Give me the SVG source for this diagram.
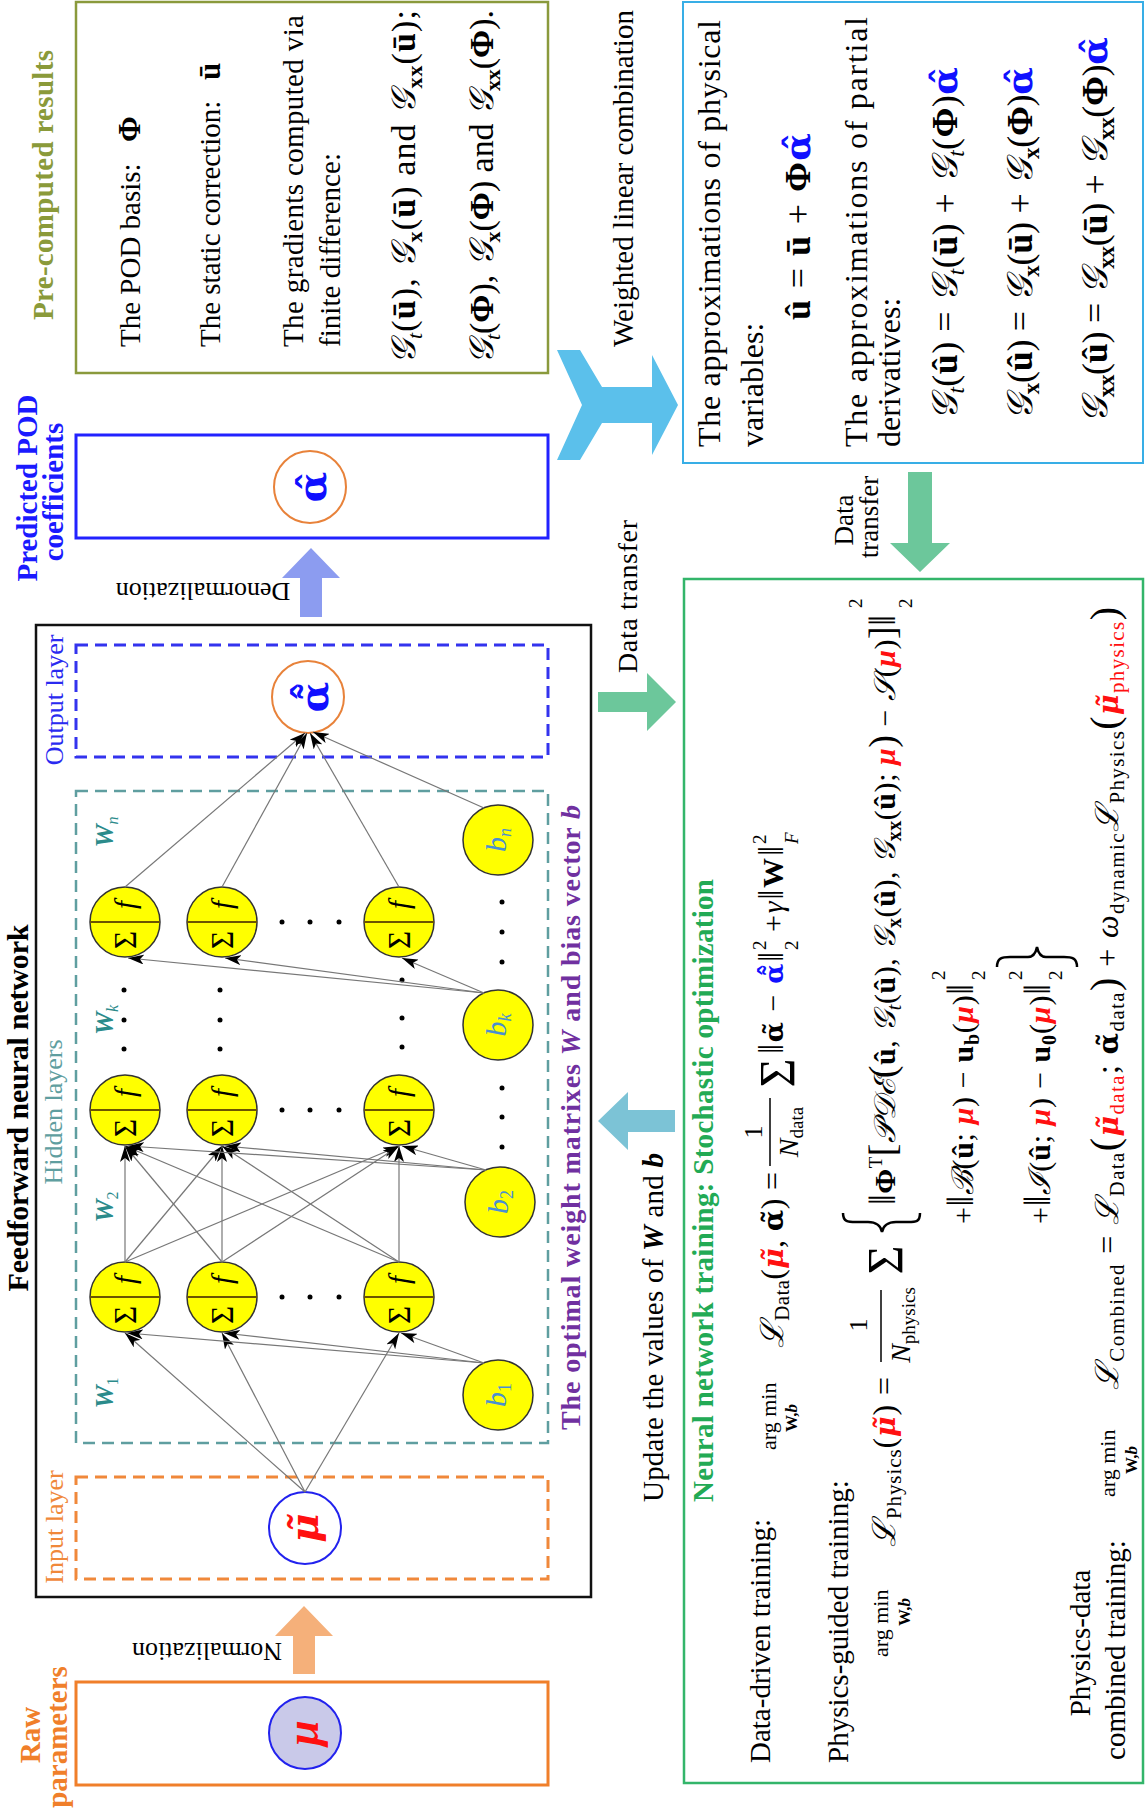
<svg xmlns="http://www.w3.org/2000/svg" width="1146" height="1813" viewBox="0 0 1146 1813">
<defs>
<style>
text { font-family: "Liberation Serif", "Times New Roman", "DejaVu Serif", serif; fill:#000; }
.b { font-weight:bold }
.i { font-style:italic }
.m { text-anchor:middle }
.red { fill:#ff1010 }
.blu { fill:#1010ff }
.gk { font-family: "DejaVu Serif", serif; }
.conn line { stroke:#777; stroke-width:1.2; marker-end:url(#ah) }
.neu { fill:#ffff00; stroke:#333; stroke-width:1.5 }
.div { stroke:#6b5500; stroke-width:2 }
.dot { fill:#000 }
.wl { fill:#2b8b8b; font-weight:bold; font-style:italic }
.bl { fill:#4a8fd0; font-style:italic }
</style>
<marker id="ah" viewBox="0 0 16 10" refX="16" refY="5" markerWidth="16" markerHeight="10" markerUnits="userSpaceOnUse" orient="auto">
<path d="M0,0 L16,5 L0,10 L4,5 z" fill="#000"/>
</marker>
</defs>
<rect width="1146" height="1813" fill="#fff"/>

<!-- Pre-computed results -->
<g id="precomputed">
<rect x="76" y="2" width="472" height="371" fill="none" stroke="#8a9a3c" stroke-width="2.5"/>
<text class="b m" font-size="29" style="fill:#8a9a3a" transform="translate(53,185) rotate(-90)" textLength="270">Pre-computed results</text>
<text font-size="29" transform="translate(140,347) rotate(-90)">The POD basis:</text>
<text class="b" font-size="31" transform="translate(140,142) rotate(-90)">Φ</text>
<text font-size="29" transform="translate(220,347) rotate(-90)">The static correction:</text>
<text class="b" font-size="31" transform="translate(220,80) rotate(-90)">ū</text>
<text font-size="29" transform="translate(303,347) rotate(-90)" textLength="332">The gradients computed via</text>
<text font-size="29" transform="translate(340,347) rotate(-90)" textLength="194">finite difference:</text>
<text font-size="34" transform="translate(415,364) rotate(-90)" textLength="354" lengthAdjust="spacing"><tspan class="i">𝒢</tspan><tspan class="i" font-size="22" dy="7">t</tspan><tspan dy="-7">(</tspan><tspan class="b">ū</tspan>), <tspan class="i">𝒢</tspan><tspan class="b" font-size="22" dy="7">x</tspan><tspan dy="-7">(</tspan><tspan class="b">ū</tspan>) and <tspan class="i">𝒢</tspan><tspan class="b" font-size="22" dy="7">xx</tspan><tspan dy="-7">(</tspan><tspan class="b">ū</tspan>);</text>
<text font-size="34" transform="translate(493,364) rotate(-90)" textLength="354" lengthAdjust="spacing"><tspan class="i">𝒢</tspan><tspan class="i" font-size="22" dy="7">t</tspan><tspan dy="-7">(</tspan><tspan class="b">Φ</tspan>), <tspan class="i">𝒢</tspan><tspan class="b" font-size="22" dy="7">x</tspan><tspan dy="-7">(</tspan><tspan class="b">Φ</tspan>) and <tspan class="i">𝒢</tspan><tspan class="b" font-size="22" dy="7">xx</tspan><tspan dy="-7">(</tspan><tspan class="b">Φ</tspan>).</text>
</g>

<!-- Predicted POD coefficients -->
<g id="predicted">
<rect x="76" y="435" width="472" height="103" fill="none" stroke="#2222ff" stroke-width="3"/>
<text class="b m" font-size="29" style="fill:#1a1aff" transform="translate(37,488) rotate(-90)">Predicted POD</text>
<text class="b m" font-size="29" style="fill:#1a1aff" transform="translate(63,492) rotate(-90)">coefficients</text>
<circle cx="310" cy="487" r="36" fill="#fff" stroke="#e8823a" stroke-width="2"/>
<text class="b blu gk m" font-size="40" transform="translate(326,487) rotate(-90)">α̂</text>
</g>

<!-- Feedforward neural network frame -->
<g id="fnn">
<rect x="36" y="625" width="555" height="972" fill="none" stroke="#111" stroke-width="2.5"/>
<text class="b m" font-size="30" transform="translate(28,1108) rotate(-90)" textLength="367">Feedforward neural network</text>
<rect x="76" y="645" width="472" height="112" fill="none" stroke="#3333ee" stroke-width="3" stroke-dasharray="12 7"/>
<text class="m" font-size="26" style="fill:#2a2af0" transform="translate(63,700) rotate(-90)">Output layer</text>
<rect x="76" y="791" width="472" height="652" fill="none" stroke="#5f9ea0" stroke-width="2.5" stroke-dasharray="12 7"/>
<text class="m" font-size="26" style="fill:#5f9ea0" transform="translate(62,1112) rotate(-90)">Hidden layers</text>
<rect x="76" y="1477" width="472" height="102" fill="none" stroke="#f0883a" stroke-width="3" stroke-dasharray="12 7"/>
<text class="m" font-size="26" style="fill:#f0883a" transform="translate(63,1527) rotate(-90)">Input layer</text>
<text class="b" font-size="28" style="fill:#7030a0" transform="translate(580,1430) rotate(-90)" textLength="625">The optimal weight matrixes <tspan class="i">W</tspan> and bias vector <tspan class="i">b</tspan></text>
<text class="wl m" font-size="26" transform="translate(113,1393) rotate(-90)">W<tspan font-size="16" font-weight="normal" font-style="normal" dy="5">1</tspan></text>
<text class="wl m" font-size="26" transform="translate(113,1207) rotate(-90)">W<tspan font-size="16" font-weight="normal" font-style="normal" dy="5">2</tspan></text>
<text class="wl m" font-size="26" transform="translate(113,1020) rotate(-90)">W<tspan font-size="16" font-weight="normal" dy="5">k</tspan></text>
<text class="wl m" font-size="26" transform="translate(113,832) rotate(-90)">W<tspan font-size="16" font-weight="normal" dy="5">n</tspan></text>
</g>

<!-- Raw parameters -->
<g id="raw">
<rect x="76" y="1682" width="472" height="103" fill="none" stroke="#f07f2a" stroke-width="3"/>
<text class="b m" font-size="29" style="fill:#f07f2a" transform="translate(40,1735) rotate(-90)">Raw</text>
<text class="b m" font-size="29" style="fill:#f07f2a" transform="translate(67,1737) rotate(-90)">parameters</text>
<circle cx="305" cy="1733" r="36" fill="#c9c9e9" stroke="#2222ee" stroke-width="2"/>
<text class="b i m red" font-size="46" transform="translate(318,1733) rotate(-90)">μ</text>
</g>

<!-- Input node -->
<g id="input">
<circle cx="305" cy="1528" r="36" fill="#fff" stroke="#2222ee" stroke-width="2"/>
<text class="b i m red gk" font-size="40" transform="translate(318,1528) rotate(-90)">μ̃</text>
</g>

<!-- Output node -->
<g id="output">
<circle cx="308" cy="697" r="36" fill="#fff" stroke="#e8823a" stroke-width="2"/>
<text class="b m blu gk" font-size="40" transform="translate(328,697) rotate(-90)">α̃̂</text>
</g>

<!-- Hidden neurons -->
<g id="n11" transform="translate(125,1297)"><circle r="35" class="neu"/><line x1="-35" y1="0" x2="35" y2="0" class="div"/><text class="m" font-size="31" transform="translate(11,18) rotate(-90)">Σ</text><text class="m i" font-size="29" transform="translate(10,-17) rotate(-90)">f</text></g>
<g id="n12" transform="translate(222,1297)"><circle r="35" class="neu"/><line x1="-35" y1="0" x2="35" y2="0" class="div"/><text class="m" font-size="31" transform="translate(11,18) rotate(-90)">Σ</text><text class="m i" font-size="29" transform="translate(10,-17) rotate(-90)">f</text></g>
<g id="n13" transform="translate(399,1297)"><circle r="35" class="neu"/><line x1="-35" y1="0" x2="35" y2="0" class="div"/><text class="m" font-size="31" transform="translate(11,18) rotate(-90)">Σ</text><text class="m i" font-size="29" transform="translate(10,-17) rotate(-90)">f</text></g>
<g id="n21" transform="translate(125,1110)"><circle r="35" class="neu"/><line x1="-35" y1="0" x2="35" y2="0" class="div"/><text class="m" font-size="31" transform="translate(11,18) rotate(-90)">Σ</text><text class="m i" font-size="29" transform="translate(10,-17) rotate(-90)">f</text></g>
<g id="n22" transform="translate(222,1110)"><circle r="35" class="neu"/><line x1="-35" y1="0" x2="35" y2="0" class="div"/><text class="m" font-size="31" transform="translate(11,18) rotate(-90)">Σ</text><text class="m i" font-size="29" transform="translate(10,-17) rotate(-90)">f</text></g>
<g id="n23" transform="translate(399,1110)"><circle r="35" class="neu"/><line x1="-35" y1="0" x2="35" y2="0" class="div"/><text class="m" font-size="31" transform="translate(11,18) rotate(-90)">Σ</text><text class="m i" font-size="29" transform="translate(10,-17) rotate(-90)">f</text></g>
<g id="nk1" transform="translate(125,922)"><circle r="35" class="neu"/><line x1="-35" y1="0" x2="35" y2="0" class="div"/><text class="m" font-size="31" transform="translate(11,18) rotate(-90)">Σ</text><text class="m i" font-size="29" transform="translate(10,-17) rotate(-90)">f</text></g>
<g id="nk2" transform="translate(222,922)"><circle r="35" class="neu"/><line x1="-35" y1="0" x2="35" y2="0" class="div"/><text class="m" font-size="31" transform="translate(11,18) rotate(-90)">Σ</text><text class="m i" font-size="29" transform="translate(10,-17) rotate(-90)">f</text></g>
<g id="nk3" transform="translate(399,922)"><circle r="35" class="neu"/><line x1="-35" y1="0" x2="35" y2="0" class="div"/><text class="m" font-size="31" transform="translate(11,18) rotate(-90)">Σ</text><text class="m i" font-size="29" transform="translate(10,-17) rotate(-90)">f</text></g>

<!-- Bias nodes -->
<g id="b1" transform="translate(498,1395)"><circle r="35" class="neu"/><text class="bl m" font-size="30" transform="translate(8,0) rotate(-90)">b<tspan font-size="18" font-style="normal" dy="5">1</tspan></text></g>
<g id="b2" transform="translate(500,1202)"><circle r="35" class="neu"/><text class="bl m" font-size="30" transform="translate(8,0) rotate(-90)">b<tspan font-size="18" font-style="normal" dy="5">2</tspan></text></g>
<g id="bk" transform="translate(498,1025)"><circle r="35" class="neu"/><text class="bl m" font-size="30" transform="translate(8,0) rotate(-90)">b<tspan font-size="18" dy="5">k</tspan></text></g>
<g id="bn" transform="translate(498,840)"><circle r="35" class="neu"/><text class="bl m" font-size="30" transform="translate(8,0) rotate(-90)">b<tspan font-size="18" dy="5">n</tspan></text></g>

<!-- ellipsis dots -->
<g id="dots" class="dot">
<circle cx="282" cy="1297" r="2.5"/><circle cx="310" cy="1297" r="2.5"/><circle cx="339" cy="1297" r="2.5"/>
<circle cx="282" cy="1110" r="2.5"/><circle cx="310" cy="1110" r="2.5"/><circle cx="339" cy="1110" r="2.5"/>
<circle cx="282" cy="922" r="2.5"/><circle cx="310" cy="922" r="2.5"/><circle cx="339" cy="922" r="2.5"/>
<circle cx="124" cy="990" r="2.5"/><circle cx="124" cy="1020" r="2.5"/><circle cx="124" cy="1049" r="2.5"/>
<circle cx="220" cy="990" r="2.5"/><circle cx="220" cy="1020" r="2.5"/><circle cx="220" cy="1049" r="2.5"/>
<circle cx="402" cy="980" r="2.5"/><circle cx="402" cy="1018" r="2.5"/><circle cx="402" cy="1047" r="2.5"/>
<circle cx="502" cy="1088" r="2.5"/><circle cx="502" cy="1117" r="2.5"/><circle cx="502" cy="1147" r="2.5"/>
<circle cx="502" cy="902" r="2.5"/><circle cx="502" cy="932" r="2.5"/><circle cx="502" cy="962" r="2.5"/>
</g>

<!-- Connectors -->
<g id="connectors" class="conn">
<line x1="305" y1="1492" x2="125" y2="1333"/>
<line x1="305" y1="1492" x2="222" y2="1333"/>
<line x1="305" y1="1492" x2="399" y2="1333"/>
<line x1="484" y1="1363" x2="127" y2="1333"/>
<line x1="484" y1="1363" x2="224" y2="1333"/>
<line x1="484" y1="1363" x2="401" y2="1333"/>
<line x1="125" y1="1262" x2="125" y2="1146"/>
<line x1="125" y1="1262" x2="222" y2="1146"/>
<line x1="125" y1="1262" x2="399" y2="1146"/>
<line x1="222" y1="1262" x2="125" y2="1146"/>
<line x1="222" y1="1262" x2="222" y2="1146"/>
<line x1="222" y1="1262" x2="399" y2="1146"/>
<line x1="399" y1="1262" x2="125" y2="1146"/>
<line x1="399" y1="1262" x2="222" y2="1146"/>
<line x1="399" y1="1262" x2="399" y2="1146"/>
<line x1="486" y1="1170" x2="128" y2="1146"/>
<line x1="486" y1="1170" x2="225" y2="1146"/>
<line x1="486" y1="1170" x2="402" y2="1146"/>
<line x1="484" y1="993" x2="128" y2="958"/>
<line x1="484" y1="993" x2="225" y2="958"/>
<line x1="484" y1="993" x2="402" y2="958"/>
<line x1="125" y1="887" x2="305" y2="733"/>
<line x1="222" y1="887" x2="307" y2="733"/>
<line x1="399" y1="887" x2="310" y2="733"/>
<line x1="484" y1="808" x2="313" y2="732"/>
</g>

<!-- Block arrows -->
<g id="arrows">
<polygon points="304,1606 333,1636 315,1636 315,1674 293,1674 293,1636 275,1636" fill="#f5b07a"/>
<text class="m" font-size="26" transform="translate(207,1643) rotate(180)">Normalization</text>
<polygon points="311,548 340,578 322,578 322,617 300,617 300,578 282,578" fill="#8c9cf0"/>
<text class="m" font-size="26" transform="translate(203,583) rotate(180)">Denormalization</text>
<polygon points="598,692 647,692 647,673 676,702 647,731 647,712 598,712" fill="#6cc79b"/>
<text font-size="28" transform="translate(637,673) rotate(-90)" textLength="153">Data transfer</text>
<polygon points="908,472 932,472 932,543 950,543 920,572 890,543 908,543" fill="#6cc79b"/>
<text class="m" font-size="27" transform="translate(853,520) rotate(-90)">Data</text>
<text class="m" font-size="27" transform="translate(878,517) rotate(-90)">transfer</text>
<polygon points="598,1121 628,1092 628,1110 675,1110 675,1132 628,1132 628,1150" fill="#7cc3d6"/>
<text font-size="29" transform="translate(663,1502) rotate(-90)" textLength="349">Update the values of <tspan class="b i">W</tspan> and <tspan class="b i">b</tspan></text>
<polygon points="557,350 580,350 602,387 652,387 652,355 678,405 652,455 652,423 602,423 580,460 557,460 582,405" fill="#5bc0eb"/>
<text font-size="29" transform="translate(633,347) rotate(-90)" textLength="337">Weighted linear combination</text>
</g>

<!-- Approximation box -->
<g id="approx">
<rect x="683" y="2" width="460" height="461" fill="none" stroke="#38aee6" stroke-width="2"/>
<text font-size="32" transform="translate(720,447) rotate(-90)" textLength="427">The approximations of physical</text>
<text font-size="32" transform="translate(763,447) rotate(-90)">variables:</text>
<text font-size="36" transform="translate(810,320) rotate(-90)" textLength="187" lengthAdjust="spacing"><tspan class="b">û</tspan> = <tspan class="b">ū</tspan> + <tspan class="b">Φ</tspan><tspan class="b blu gk">α̂</tspan></text>
<text font-size="32" transform="translate(867,447) rotate(-90)" textLength="430">The approximations of partial</text>
<text font-size="32" transform="translate(900,447) rotate(-90)">derivatives:</text>
<text font-size="36" transform="translate(957,420) rotate(-90)" textLength="353" lengthAdjust="spacing"><tspan class="i">𝒢</tspan><tspan class="i" font-size="23" dy="7">t</tspan><tspan dy="-7">(</tspan><tspan class="b">û</tspan>) = <tspan class="i">𝒢</tspan><tspan class="i" font-size="23" dy="7">t</tspan><tspan dy="-7">(</tspan><tspan class="b">ū</tspan>) + <tspan class="i">𝒢</tspan><tspan class="i" font-size="23" dy="7">t</tspan><tspan dy="-7">(</tspan><tspan class="b">Φ</tspan>)<tspan class="b blu gk">α̂</tspan></text>
<text font-size="36" transform="translate(1032,420) rotate(-90)" textLength="353" lengthAdjust="spacing"><tspan class="i">𝒢</tspan><tspan class="b" font-size="23" dy="7">x</tspan><tspan dy="-7">(</tspan><tspan class="b">û</tspan>) = <tspan class="i">𝒢</tspan><tspan class="b" font-size="23" dy="7">x</tspan><tspan dy="-7">(</tspan><tspan class="b">ū</tspan>) + <tspan class="i">𝒢</tspan><tspan class="b" font-size="23" dy="7">x</tspan><tspan dy="-7">(</tspan><tspan class="b">Φ</tspan>)<tspan class="b blu gk">α̂</tspan></text>
<text font-size="36" transform="translate(1107,423) rotate(-90)" textLength="386" lengthAdjust="spacing"><tspan class="i">𝒢</tspan><tspan class="b" font-size="23" dy="7">xx</tspan><tspan dy="-7">(</tspan><tspan class="b">û</tspan>) = <tspan class="i">𝒢</tspan><tspan class="b" font-size="23" dy="7">xx</tspan><tspan dy="-7">(</tspan><tspan class="b">ū</tspan>) + <tspan class="i">𝒢</tspan><tspan class="b" font-size="23" dy="7">xx</tspan><tspan dy="-7">(</tspan><tspan class="b">Φ</tspan>)<tspan class="b blu gk">α̂</tspan></text>
</g>

<!-- Training box -->
<g id="training">
<rect x="684" y="579" width="459" height="1204" fill="none" stroke="#33b56a" stroke-width="2.5"/>
<text class="b" font-size="29" style="fill:#22aa55" transform="translate(713,1502) rotate(-90)" textLength="623">Neural network training: Stochastic optimization</text>

<text font-size="29" transform="translate(770,1763) rotate(-90)">Data-driven training:</text>
<text font-size="22" transform="translate(776,1450) rotate(-90)">arg min</text>
<text class="b m" font-size="17" transform="translate(797,1418) rotate(-90)">W,<tspan class="i">b</tspan></text>
<text font-size="32" transform="translate(783,1348) rotate(-90)" textLength="176" lengthAdjust="spacing"><tspan class="i">ℒ</tspan><tspan font-size="21" dy="6">Data</tspan><tspan dy="-6">(</tspan><tspan class="b i red gk" font-size="28">μ̃</tspan>, <tspan class="b gk" font-size="28">α̃</tspan>) =</text>
<text class="m" font-size="26" transform="translate(762,1132) rotate(-90)">1</text>
<line x1="770" y1="1098" x2="770" y2="1166" stroke="#000" stroke-width="1.5"/>
<text class="m" font-size="28" transform="translate(798,1132) rotate(-90)"><tspan class="i">N</tspan><tspan font-size="19" dy="5">data</tspan></text>
<text class="m" font-size="50" transform="translate(794,1073) rotate(-90)">Σ</text>
<text font-size="30" transform="translate(783,1054) rotate(-90)" textLength="102" lengthAdjust="spacing"><tspan font-size="36">‖</tspan><tspan class="b gk" font-size="26">α̃</tspan> − <tspan class="b blu gk" font-size="26">α̃̂</tspan><tspan font-size="36">‖</tspan></text>
<text font-size="19" transform="translate(766,950) rotate(-90)">2</text>
<text font-size="19" transform="translate(798,950) rotate(-90)">2</text>
<text font-size="30" transform="translate(783,932) rotate(-90)" textLength="86" lengthAdjust="spacing">+<tspan class="i">γ</tspan><tspan font-size="36">‖</tspan><tspan class="b">W</tspan><tspan font-size="36">‖</tspan></text>
<text font-size="19" transform="translate(766,844) rotate(-90)">2</text>
<text class="i" font-size="19" transform="translate(798,844) rotate(-90)">F</text>

<text font-size="29" transform="translate(848,1763) rotate(-90)">Physics-guided training:</text>
<text font-size="22" transform="translate(888,1657) rotate(-90)">arg min</text>
<text class="b m" font-size="17" transform="translate(910,1612) rotate(-90)">W,<tspan class="i">b</tspan></text>
<text font-size="32" transform="translate(895,1547) rotate(-90)" textLength="170" lengthAdjust="spacing"><tspan class="i">ℒ</tspan><tspan font-size="21" dy="6">Physics</tspan><tspan dy="-6">(</tspan><tspan class="b i red gk" font-size="28">μ̃</tspan>) =</text>
<text class="m" font-size="26" transform="translate(867,1325) rotate(-90)">1</text>
<line x1="881" y1="1290" x2="881" y2="1362" stroke="#000" stroke-width="1.5"/>
<text class="m" font-size="28" transform="translate(910,1325) rotate(-90)"><tspan class="i">N</tspan><tspan font-size="19" dy="5">physics</tspan></text>
<text class="m" font-size="50" transform="translate(902,1260) rotate(-90)">Σ</text>
<path d="M843,1213 C843,1222 848,1222 856,1222 L868,1222 C876,1222 881,1226 882,1232 C883,1226 888,1222 896,1222 L908,1222 C916,1222 920,1222 920,1213" fill="none" stroke="#000" stroke-width="2.5"/>
<text font-size="30" transform="translate(895,1205) rotate(-90)" textLength="590" lengthAdjust="spacing"><tspan font-size="38">‖</tspan><tspan class="b">Φ</tspan><tspan font-size="19" dy="-13">T</tspan><tspan font-size="38" dy="13">[</tspan><tspan class="i">𝒫𝒟ℰ</tspan><tspan font-size="38">(</tspan><tspan class="b">û</tspan>, <tspan class="i">𝒢</tspan><tspan class="i" font-size="20" dy="6">t</tspan><tspan dy="-6">(</tspan><tspan class="b">û</tspan>), <tspan class="i">𝒢</tspan><tspan class="b" font-size="20" dy="6">x</tspan><tspan dy="-6">(</tspan><tspan class="b">û</tspan>), <tspan class="i">𝒢</tspan><tspan class="b" font-size="20" dy="6">xx</tspan><tspan dy="-6">(</tspan><tspan class="b">û</tspan>); <tspan class="b i red">μ</tspan><tspan font-size="38">)</tspan> − <tspan class="i">𝒮</tspan>(<tspan class="b i red">μ</tspan>)<tspan font-size="38">]</tspan><tspan font-size="38">‖</tspan></text>
<text font-size="19" transform="translate(862,608) rotate(-90)">2</text>
<text font-size="19" transform="translate(912,608) rotate(-90)">2</text>
<text font-size="30" transform="translate(973,1224) rotate(-90)" textLength="240" lengthAdjust="spacing">+<tspan font-size="38">‖</tspan><tspan class="i">ℬ</tspan>(<tspan class="b">û</tspan>; <tspan class="b i red">μ</tspan>) − <tspan class="b">u</tspan><tspan class="b" font-size="20" dy="6">b</tspan><tspan dy="-6">(</tspan><tspan class="b i red">μ</tspan>)<tspan font-size="38">‖</tspan></text>
<text font-size="19" transform="translate(945,980) rotate(-90)">2</text>
<text font-size="19" transform="translate(985,980) rotate(-90)">2</text>
<text font-size="30" transform="translate(1050,1224) rotate(-90)" textLength="240" lengthAdjust="spacing">+<tspan font-size="38">‖</tspan><tspan class="i">ℐ</tspan>(<tspan class="b">û</tspan>; <tspan class="b i red">μ</tspan>) − <tspan class="b">u</tspan><tspan class="b" font-size="20" dy="6">0</tspan><tspan dy="-6">(</tspan><tspan class="b i red">μ</tspan>)<tspan font-size="38">‖</tspan></text>
<text font-size="19" transform="translate(1022,980) rotate(-90)">2</text>
<text font-size="19" transform="translate(1062,980) rotate(-90)">2</text>
<path d="M997,967 C997,958 1002,957 1010,957 L1028,957 C1034,957 1036,952 1037,947 C1038,952 1040,957 1046,957 L1064,957 C1072,957 1077,958 1077,967" fill="none" stroke="#000" stroke-width="2.5"/>

<text class="m" font-size="29" transform="translate(1090,1643) rotate(-90)">Physics-data</text>
<text class="m" font-size="29" transform="translate(1125,1650) rotate(-90)">combined training:</text>
<text font-size="22" transform="translate(1115,1497) rotate(-90)">arg min</text>
<text class="b m" font-size="17" transform="translate(1137,1460) rotate(-90)">W,<tspan class="i">b</tspan></text>
<text font-size="32" transform="translate(1118,1390) rotate(-90)" textLength="783" lengthAdjust="spacing"><tspan class="i">ℒ</tspan><tspan font-size="21" dy="6">Combined</tspan><tspan dy="-6"> = </tspan><tspan class="i">ℒ</tspan><tspan font-size="21" dy="6">Data</tspan><tspan font-size="40" dy="-6">(</tspan><tspan class="b i red gk" font-size="28">μ̃</tspan><tspan class="red" font-size="21" dy="6">data</tspan><tspan dy="-6">; </tspan><tspan class="b gk" font-size="28">α̃</tspan><tspan font-size="21" dy="6">data</tspan><tspan font-size="40" dy="-6">)</tspan> + <tspan class="i">ω</tspan><tspan font-size="21" dy="6">dynamic</tspan><tspan class="i" dy="-6">ℒ</tspan><tspan font-size="21" dy="6">Physics</tspan><tspan font-size="40" dy="-6">(</tspan><tspan class="b i red gk" font-size="28">μ̃</tspan><tspan class="red" font-size="21" dy="6">physics</tspan><tspan font-size="40" dy="-6">)</tspan></text>
</g>
</svg>
